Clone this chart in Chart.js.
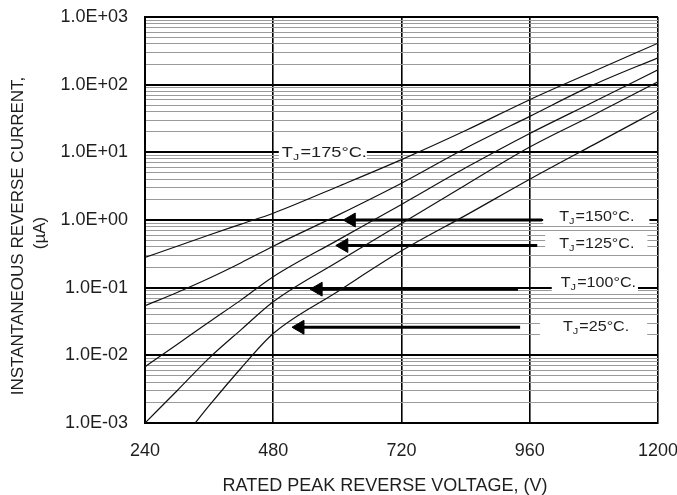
<!DOCTYPE html>
<html>
<head>
<meta charset="utf-8">
<script src="https://cdn.jsdelivr.net/npm/chart.js@4.4.1/dist/chart.umd.min.js"></script>
<style>
  html, body { margin: 0; padding: 0; background: #fff; }
  .chart-wrapper { position: relative; width: 677px; height: 495px; }
</style>
</head>
<body>
<div class="chart-wrapper"><canvas id="leakChart"></canvas></div>
<script>
// --- values (voltage in V, current in uA) ---
const voltage   = [240, 300, 360, 420, 480, 600, 720, 840, 960, 1080, 1200];
const voltage25 = [334, 360, 420, 480, 600, 720, 840, 960, 1080, 1200];

const tj175 = [0.28, 0.41, 0.60, 0.87, 1.26, 3.1, 7.8, 21, 60, 158, 410];
const tj150 = [0.054, 0.085, 0.138, 0.234, 0.41, 1.17, 3.5, 11.5, 34, 100, 250];
const tj125 = [0.0068, 0.0145, 0.031, 0.066, 0.145, 0.50, 1.7, 5.9, 19, 56, 166];
const tj100 = [0.001, 0.003, 0.0091, 0.024, 0.062, 0.24, 0.89, 3.3, 12, 36, 110];
const tj25  = [0.001, 0.0018, 0.0065, 0.021, 0.087, 0.35, 1.17, 4.0, 13, 42];

// arrows pointing from the labels to the curves
const arrowTailV  = [983, 974, 938, 942];
const arrowHeadV  = [626, 612, 564, 530];
const arrowLevel  = [1.0, 0.42, 0.095, 0.026];

// curve labels (text start in V, baseline in uA)
const labelTemps = ['175', '150', '125', '100', '25'];
const labelV     = [496, 1015, 1015, 1018, 1022];
const labelI     = [8.5, 0.97, 0.39, 0.102, 0.023];

// axis ticks
const xTicks      = [240, 480, 720, 960, 1200];
const yDecades    = [0.001, 0.01, 0.1, 1, 10, 100, 1000];
const yTickLabels = ['1.0E-03', '1.0E-02', '1.0E-01', '1.0E+00', '1.0E+01', '1.0E+02', '1.0E+03'];
const minorSteps  = [2, 3, 4, 5, 6, 7, 8, 9];

const FONT = "'Liberation Sans', Arial, sans-serif";
const INK = '#1e1e1e';

// white patch around each label (px): left pad, right pad; and horizontal stretch of the text
const labelPad = [[3, 0], [16, 15], [14, 13], [9, 2], [23, 18]];
const labelStretch = [1.3, 1.15, 1.15, 1.15, 1.15];

function yGridValues() {
    const vals = [];
    yDecades.forEach((d, i) => {
        vals.push(d);
        if (i < yDecades.length - 1) minorSteps.forEach(m => vals.push(d * m));
    });
    return vals.sort((a, b) => a - b);
}

function curve(xs, ys) {
    return xs.map((x, i) => ({ x: x, y: ys[i] }));
}

function curveSet(xs, ys) {
    return {
        data: curve(xs, ys),
        borderColor: '#111',
        borderWidth: 1.2,
        pointRadius: 0,
        cubicInterpolationMode: 'monotone',
        fill: false
    };
}

function arrowSet(i) {
    return {
        data: [{ x: arrowTailV[i], y: arrowLevel[i] }, { x: arrowHeadV[i], y: arrowLevel[i] }],
        borderColor: '#000',
        backgroundColor: '#000',
        borderWidth: 3,
        pointStyle: 'triangle',
        rotation: -90,
        pointRadius: [0, 8],
        pointBorderWidth: 1
    };
}

// --- labels "TJ=xxx°C." sitting on white patches over the grid ---
const tjLabels = {
    id: 'tjLabels',
    beforeDatasetsDraw(chart) {
        const ctx = chart.ctx;
        const xs = chart.scales.x, ys = chart.scales.y;
        labelTemps.forEach((t, i) => {
            const x = xs.getPixelForValue(labelV[i]);
            const y = ys.getPixelForValue(labelI[i]);
            const stretch = labelStretch[i];
            ctx.save();
            ctx.font = '14px ' + FONT;
            const wT = ctx.measureText('T').width;
            const rest = '=' + t + '°C.';
            const wRest = ctx.measureText(rest).width;
            ctx.font = '9.5px ' + FONT;
            const wJ = ctx.measureText('J').width;
            const w = (wT + wJ + 1 + wRest) * stretch;

            ctx.fillStyle = '#fff';
            const top = i === 0 ? y - 13 : y - 15;
            const bot = i === 0 ? y + 2 : y + 5;
            ctx.fillRect(x - labelPad[i][0], top, w + labelPad[i][0] + labelPad[i][1], bot - top);

            ctx.translate(x, y);
            ctx.scale(stretch, 1);
            ctx.fillStyle = INK;
            ctx.textBaseline = 'alphabetic';
            ctx.font = '14px ' + FONT;
            ctx.fillText('T', 0, 0);
            ctx.font = '9.5px ' + FONT;
            ctx.fillText('J', wT, 3);
            ctx.font = '14px ' + FONT;
            ctx.fillText(rest, wT + wJ + 1, 0);
            ctx.restore();
        });
    }
};

// --- axis titles (placed where the reference has them) ---
const axisTitles = {
    id: 'axisTitles',
    afterDraw(chart) {
        const ctx = chart.ctx;
        ctx.save();
        ctx.fillStyle = INK;
        ctx.textAlign = 'center';
        ctx.textBaseline = 'alphabetic';
        ctx.font = '18px ' + FONT;
        ctx.fillText('RATED PEAK REVERSE VOLTAGE, (V)', 385, 491);

        ctx.font = '17px ' + FONT;
        ctx.translate(23, 236);
        ctx.rotate(-Math.PI / 2);
        ctx.fillText('INSTANTANEOUS REVERSE CURRENT,', 0, 0);
        ctx.fillText('(µA)', 3, 22);
        ctx.restore();
    }
};

document.addEventListener('DOMContentLoaded', () => {
    const gridVals = yGridValues();
    const isDecade = v => yDecades.includes(v);

    new Chart(document.getElementById('leakChart'), {
        type: 'line',
        data: {
            datasets: [
                curveSet(voltage, tj175),
                curveSet(voltage, tj150),
                curveSet(voltage, tj125),
                curveSet(voltage, tj100),
                curveSet(voltage25, tj25),
                arrowSet(0), arrowSet(1), arrowSet(2), arrowSet(3)
            ]
        },
        options: {
            responsive: true,
            maintainAspectRatio: false,
            animation: false,
            layout: { padding: { top: 17, right: 19, left: 0, bottom: 0 } },
            plugins: { legend: { display: false }, tooltip: { enabled: false } },
            scales: {
                x: {
                    type: 'linear',
                    min: 240,
                    max: 1200,
                    afterBuildTicks: s => { s.ticks = xTicks.map(v => ({ value: v })); },
                    afterFit: s => { s.height = 72; s.paddingLeft = 0; s.paddingRight = 0; },
                    grid: { color: '#000', lineWidth: 1.6, drawTicks: false },
                    border: { color: '#000', width: 2 },
                    ticks: {
                        padding: 17, color: INK, autoSkip: false, maxRotation: 0,
                        font: { family: FONT, size: 18 },
                        callback: v => String(v)
                    }
                },
                y: {
                    type: 'logarithmic',
                    min: 0.001,
                    max: 1000,
                    afterBuildTicks: s => { s.ticks = gridVals.map(v => ({ value: v })); },
                    afterFit: s => { s.width = 145; s.paddingTop = 0; s.paddingBottom = 0; },
                    grid: {
                        drawTicks: false,
                        color: c => isDecade(c.tick.value) ? '#000' : '#9a9a9a',
                        lineWidth: c => isDecade(c.tick.value) ? 2 : 1
                    },
                    border: { color: '#000', width: 2 },
                    ticks: {
                        padding: 17, color: INK, autoSkip: false,
                        font: { family: FONT, size: 18 },
                        callback: v => {
                            const i = yDecades.indexOf(v);
                            return i >= 0 ? yTickLabels[i] : '';
                        }
                    }
                }
            }
        },
        plugins: [tjLabels, axisTitles]
    });
});
</script>
</body>
</html>
